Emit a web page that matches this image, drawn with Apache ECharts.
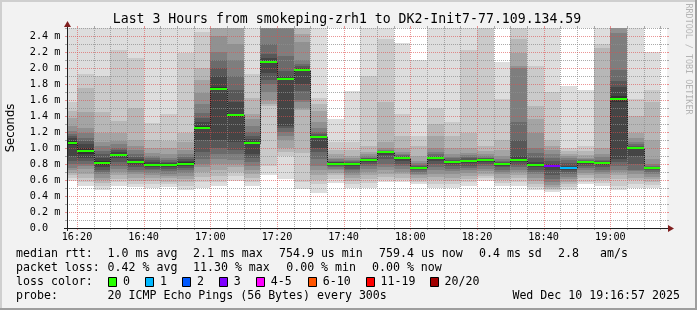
<!DOCTYPE html>
<html><head><meta charset="utf-8">
<script src="https://cdn.jsdelivr.net/npm/echarts@6/dist/echarts.min.js"></script>
<style>html,body{margin:0;padding:0;background:#f2f2f2}#c{width:697px;height:310px}</style>
</head><body><div id="c"></div>
<script>
// ---- data ----
const stepEnds = ['16:20','16:25','16:30','16:35','16:40','16:45','16:50','16:55',
  '17:00','17:05','17:10','17:15','17:20','17:25','17:30','17:35','17:40','17:45','17:50','17:55',
  '18:00','18:05','18:10','18:15','18:20','18:25','18:30','18:35','18:40','18:45','18:50','18:55',
  '19:00','19:05','19:10','19:15'];
const stepMinutes = 5;
const xStart = '16:17', xEnd = '19:17';
const xLabels = ['16:20','16:40','17:00','17:20','17:40','18:00','18:20','18:40','19:00'];
const yLabelValues = [0,0.2,0.4,0.6,0.8,1.0,1.2,1.4,1.6,1.8,2.0,2.2,2.4];
const yMax = 2.5;
const medians = [1.066,0.966,0.816,0.916,0.825,0.79,0.79,0.80,1.254,1.742,1.412,1.066,2.079,1.867,1.98,1.138,
  0.80,0.80,0.854,0.95,0.879,0.754,0.879,0.825,0.838,0.85,0.80,0.85,0.788,0.775,0.754,0.825,0.813,1.617,1.004,0.754];
const lossCounts = [0,0,0,0,0,0,0,0,0,0,0,0,0,0,0,0,0,0,0,0,0,0,0,0,0,0,0,0,0,3,1,0,0,0,0,0];
const pings = [
 [0.59,0.63,0.66,0.69,0.725,0.75,0.80,0.84,0.90,1.04,1.09,1.12,1.15,1.18,1.21,1.275,1.38,1.46,1.57,2.9],
 [0.53,0.57,0.62,0.68,0.74,0.77,0.80,0.84,0.88,0.93,1.0,1.05,1.09,1.13,1.19,1.25,1.45,1.75,1.92,2.9],
 [0.47,0.52,0.56,0.60,0.63,0.67,0.70,0.73,0.76,0.79,0.84,0.88,0.92,0.96,1.03,1.08,1.19,1.45,1.9,2.9],
 [0.53,0.57,0.61,0.66,0.70,0.74,0.78,0.82,0.87,0.905,0.93,0.945,0.97,1.0,1.05,1.09,1.19,1.34,2.225,2.9],
 [0.517,0.55,0.59,0.63,0.67,0.70,0.73,0.76,0.79,0.815,0.84,0.86,0.89,0.92,0.98,1.025,1.1,1.5,2.12,2.9],
 [0.50,0.55,0.59,0.63,0.66,0.69,0.72,0.74,0.76,0.78,0.80,0.83,0.85,0.88,0.90,0.94,1.0,1.1,1.317,2.9],
 [0.51,0.55,0.58,0.62,0.65,0.68,0.71,0.74,0.76,0.78,0.80,0.815,0.83,0.85,0.87,0.92,1.0,1.09,1.42,2.9],
 [0.48,0.53,0.57,0.61,0.65,0.69,0.72,0.75,0.77,0.795,0.82,0.84,0.86,0.89,0.92,0.98,1.07,1.19,2.19,2.9],
 [0.50,0.57,0.64,0.70,0.76,0.80,0.86,0.95,1.1,1.24,1.27,1.32,1.38,1.44,1.55,1.69,1.85,2.0,2.45,2.9],
 [0.525,0.58,0.65,0.72,0.80,0.86,0.93,1.0,1.1,1.72,1.76,1.9,2.0,2.1,2.2,2.4,2.6,2.7,2.8,2.9],
 [0.59,0.65,0.70,0.76,0.80,0.85,0.92,0.97,1.07,1.39,1.43,1.57,1.73,1.9,2.1,2.3,2.6,2.7,2.8,2.9],
 [0.525,0.57,0.63,0.68,0.73,0.78,0.83,0.88,0.92,1.05,1.08,1.11,1.15,1.2,1.275,1.36,1.42,1.63,1.92,2.9],
 [0.66,0.775,1.525,1.55,1.6,1.7,1.8,1.85,1.94,2.07,2.09,2.12,2.17,2.3,2.6,2.7,2.75,2.8,2.85,2.9],
 [0.61,0.9,0.95,1.0,1.1,1.15,1.2,1.25,1.28,1.85,1.88,1.9,1.96,2.15,2.6,2.7,2.75,2.8,2.85,2.9],
 [0.483,0.57,0.94,1.48,1.5,1.57,1.6,1.71,1.8,1.97,1.99,2.0,2.02,2.05,2.1,2.32,2.42,2.55,2.6,2.9],
 [0.44,0.55,0.6,0.66,0.72,0.78,0.86,0.95,1.0,1.13,1.145,1.155,1.17,1.2,1.25,1.32,1.46,1.55,1.63,2.9],
 [0.56,0.61,0.66,0.69,0.72,0.74,0.76,0.78,0.79,0.80,0.81,0.82,0.83,0.84,0.86,0.88,0.92,0.98,1.07,1.36],
 [0.50,0.55,0.59,0.63,0.66,0.69,0.72,0.74,0.77,0.80,0.81,0.815,0.825,0.84,0.85,0.87,0.9,0.98,1.07,1.71],
 [0.50,0.56,0.61,0.66,0.70,0.74,0.77,0.80,0.83,0.85,0.855,0.86,0.87,0.88,0.9,0.92,0.95,1.025,1.9,2.9],
 [0.57,0.6,0.64,0.68,0.72,0.76,0.8,0.86,0.91,0.945,0.95,0.952,0.955,0.965,0.98,1.0,1.07,1.57,2.36,2.9],
 [0.57,0.6,0.63,0.67,0.7,0.74,0.77,0.8,0.84,0.875,0.883,0.89,0.9,0.91,0.92,0.95,1.0,1.15,1.42,2.31],
 [0.55,0.57,0.6,0.63,0.66,0.68,0.7,0.72,0.74,0.75,0.758,0.765,0.775,0.79,0.81,0.84,0.9,1.03,1.15,2.1],
 [0.5,0.55,0.6,0.64,0.68,0.72,0.76,0.8,0.84,0.875,0.883,0.89,0.9,0.92,0.95,1.0,1.15,1.3,1.5,2.9],
 [0.5,0.55,0.59,0.63,0.67,0.71,0.74,0.77,0.8,0.825,0.835,0.84,0.85,0.87,0.89,0.93,1.0,1.15,1.32,2.9],
 [0.52,0.57,0.61,0.65,0.69,0.72,0.75,0.78,0.81,0.835,0.845,0.855,0.87,0.89,0.91,0.94,1.0,1.19,2.23,2.9],
 [0.59,0.62,0.65,0.68,0.71,0.74,0.77,0.8,0.83,0.85,0.855,0.86,0.87,0.88,0.9,0.92,0.96,1.03,2.6,2.9],
 [0.52,0.56,0.6,0.63,0.67,0.7,0.73,0.76,0.78,0.795,0.805,0.81,0.82,0.84,0.86,0.9,0.98,1.1,1.61,2.07],
 [0.52,0.57,0.62,0.66,0.7,0.73,0.76,0.79,0.82,0.84,0.86,0.9,1.1,1.32,2.0,2.03,2.19,2.36,2.6,2.9],
 [0.47,0.51,0.55,0.59,0.63,0.67,0.7,0.73,0.76,0.78,0.8,0.82,0.87,0.94,1.0,1.19,1.36,1.53,2.03,2.9],
 [0.45,0.47,0.49,0.51,0.54,0.57,0.61,0.66,0.72,0.77,0.78,0.8,0.84,0.88,0.93,0.98,1.03,1.1,1.7,2.9],
 [0.48,0.51,0.55,0.58,0.61,0.64,0.67,0.7,0.73,0.75,0.758,0.78,0.81,0.85,0.88,0.9,0.93,0.96,1.0,1.775],
 [0.55,0.58,0.62,0.66,0.69,0.72,0.75,0.78,0.8,0.82,0.83,0.835,0.84,0.85,0.86,0.88,0.91,0.96,1.025,1.73],
 [0.525,0.56,0.6,0.63,0.67,0.7,0.73,0.76,0.79,0.81,0.82,0.825,0.835,0.85,0.89,0.93,1.0,2.25,2.3,2.9],
 [0.48,0.52,0.61,0.66,0.7,0.73,0.78,0.82,0.86,1.58,1.65,1.76,1.84,1.98,2.44,2.6,2.7,2.8,2.85,2.9],
 [0.5,0.55,0.6,0.63,0.67,0.71,0.72,0.8,0.9,1.0,1.005,1.015,1.03,1.05,1.07,1.12,1.19,1.4,1.61,2.9],
 [0.5,0.54,0.58,0.61,0.64,0.67,0.7,0.72,0.74,0.748,0.753,0.757,0.765,0.78,0.8,0.86,1.1,1.57,1.73,2.2]
];
const lossLegend = ['0','1','2','3','4-5','6-10','11-19','20/20'];
const lossLegendColors = ['#26ff00','#00b8ff','#0059ff','#7e00ff','#ff00ff','#ff5500','#ff0000','#a10000'];
const statsLines = [
  ['median rtt:', '1.0 ms avg', '2.1 ms max', '754.9 us min', '759.4 us now', '0.4 ms sd', '2.8', 'am/s'],
  ['packet loss:', '0.42 % avg', '11.30 % max', '0.00 % min', '0.00 % now'],
  ['probe:', '20 ICMP Echo Pings (56 Bytes) every 300s', 'Wed Dec 10 19:16:57 2025']
];
const titleText = 'Last 3 Hours from smokeping-zrh1 to DK2-Init7-77.109.134.59';

// ---- helpers / styling ----
const toMin = s => { const [h, m] = s.split(':').map(Number); return h * 60 + m; };
const fmtMin = v => { const h = Math.floor(v / 60), m = Math.round(v % 60); return String(h).padStart(2,'0') + ':' + String(m).padStart(2,'0'); };
const lossIdx = n => n <= 3 ? n : n <= 5 ? 4 : n <= 10 ? 5 : n < 20 ? 6 : 7;
const half = 10;
const shades = []; for (let k = 0; k < half; k++) { const c = Math.floor(190 / half * (half - (k + 1))) + 50; shades.push('rgb(' + c + ',' + c + ',' + c + ')'); }
const MONO = 'DejaVu Sans Mono';
const L = 67, T = 28, W = 600, H = 200;
const GRID_MINOR = 'rgba(143,143,143,0.75)', GRID_MAJOR = 'rgba(222,79,79,0.6)';
const ARROW = '#801f1f', AXIS = '#1f1f1f';

const smokeData = [];
stepEnds.forEach((t, i) => {
  const e = toMin(t), s = e - stepMinutes, p = pings[i];
  for (let k = 0; k < half; k++) smokeData.push([s, e, p[k], p[19 - k], k]);
});
// thin median staircase: [start, end, value, previous value]
const medStairs = stepEnds.map((t, i) => [toMin(t) - stepMinutes, toMin(t), medians[i], i > 0 ? medians[i - 1] : medians[i]]);
const medSeg = stepEnds.map((t, i) => [toMin(t) - stepMinutes, toMin(t), medians[i], lossIdx(lossCounts[i])]);

// grid lines: [orientation(0=vertical,1=horizontal), value, major]
const gridData = [];
const majorMins = xLabels.map(toMin);
for (let m = toMin('16:20'); m <= toMin(xEnd); m += 5) gridData.push([0, m, majorMins.includes(m) ? 1 : 0]);
for (let n = 0; n <= 25; n++) gridData.push([1, n / 10, n % 2 === 0 ? 1 : 0]);

const chart = echarts.init(document.getElementById('c'), null, { renderer: 'canvas', width: 697, height: 310 });

const gfx = [];
gfx.push({ type: 'rect', shape: { x: 0, y: 0, width: 697, height: 2 }, style: { fill: '#cfcfcf' }, silent: true });
gfx.push({ type: 'rect', shape: { x: 0, y: 0, width: 2, height: 310 }, style: { fill: '#cfcfcf' }, silent: true });
gfx.push({ type: 'rect', shape: { x: 0, y: 308, width: 697, height: 2 }, style: { fill: '#9e9e9e' }, silent: true });
gfx.push({ type: 'rect', shape: { x: 695, y: 0, width: 2, height: 310 }, style: { fill: '#9e9e9e' }, silent: true });
gfx.push({ type: 'text', x: 347, y: 19.5, style: { text: titleText, font: '13.2px "' + MONO + '"', fill: '#000', align: 'center', verticalAlign: 'middle' } });
gfx.push({ type: 'text', x: 11, y: 128, rotation: Math.PI / 2, style: { text: 'Seconds', font: '11.6px "DejaVu Sans"', fill: '#000', align: 'center', verticalAlign: 'middle' } });
gfx.push({ type: 'text', x: 688, y: 59, rotation: -Math.PI / 2, style: { text: 'RRDTOOL / TOBI OETIKER', font: '8.4px "' + MONO + '"', fill: '#b4b4b4', align: 'center', verticalAlign: 'middle' } });
gfx.push({ type: 'line', z: 50, shape: { x1: L - 3, y1: T + H + 0.5, x2: L + W + 2, y2: T + H + 0.5 }, style: { stroke: AXIS, lineWidth: 1 } });
gfx.push({ type: 'line', z: 50, shape: { x1: L + 0.5, y1: T + H + 3, x2: L + 0.5, y2: T - 2 }, style: { stroke: AXIS, lineWidth: 1 } });
gfx.push({ type: 'polygon', z: 50, shape: { points: [[L + W + 7, T + H + 0.5], [L + W + 1, T + H - 3], [L + W + 1, T + H + 4]] }, style: { fill: ARROW } });
gfx.push({ type: 'polygon', z: 50, shape: { points: [[L + 0.5, T - 7], [L - 3, T - 1], [L + 4, T - 1]] }, style: { fill: ARROW } });
const statX = [[16, 107.6, 193, 279, 379, 479, 558, 600], [16, 107.6, 193, 286.2, 372], [16, 107.6, 512.4]];
const statY = [254.3, 268.3, 296];
statsLines.forEach((line, li) => line.forEach((s, j) => gfx.push({ type: 'text', x: statX[li][j], y: statY[li],
  style: { text: s, font: '11.6px "' + MONO + '"', fill: '#000', verticalAlign: 'middle' } })));
gfx.push({ type: 'text', x: 16, y: 281.7, style: { text: 'loss color:', font: '11.6px "' + MONO + '"', fill: '#000', verticalAlign: 'middle' } });
const boxX = [108.4, 145.3, 182.2, 219.1, 256, 308, 365.8, 429.8];
lossLegend.forEach((lab, i) => {
  gfx.push({ type: 'rect', shape: { x: Math.round(boxX[i]) + 0.5, y: 277.5, width: 8, height: 9 }, style: { fill: lossLegendColors[i], stroke: '#000', lineWidth: 1 } });
  gfx.push({ type: 'text', x: boxX[i] + 14.7, y: 281.7, style: { text: lab, font: '11.6px "' + MONO + '"', fill: '#000', verticalAlign: 'middle' } });
});

chart.setOption({
  animation: false,
  backgroundColor: '#f2f2f2',
  grid: { left: L, top: T, width: W, height: H, show: true, backgroundColor: '#ffffff', borderWidth: 0, outerBoundsMode: 'none', containLabel: false },
  xAxis: {
    type: 'value', min: toMin(xStart), max: toMin(xEnd),
    axisLine: { show: false }, splitLine: { show: false }, axisTick: { show: false },
    axisLabel: { customValues: xLabels.map(toMin), formatter: v => fmtMin(v), fontFamily: MONO, fontSize: 10.2, color: '#000', margin: 4 }
  },
  yAxis: {
    type: 'value', min: 0, max: yMax, interval: 0.1,
    axisLine: { show: false }, splitLine: { show: false }, axisTick: { show: false },
    axisLabel: { customValues: yLabelValues, formatter: v => v === 0 ? '0.0  ' : v.toFixed(1) + ' m', fontFamily: MONO, fontSize: 10.2, color: '#000', margin: 6.5 }
  },
  graphic: { elements: gfx },
  series: [
    { type: 'custom', z: 1, data: smokeData, encode: { x: [0, 1], y: [2, 3] },
      renderItem(params, api) {
        const a = api.coord([api.value(0), api.value(3)]), b = api.coord([api.value(1), api.value(2)]);
        const x1 = Math.round(a[0]), x2 = Math.round(b[0]), y1 = Math.round(a[1]), y2 = Math.round(b[1]);
        const cs = params.coordSys;
        const r = echarts.graphic.clipRectByRect({ x: x1, y: y1, width: x2 - x1, height: y2 - y1 }, { x: cs.x, y: cs.y, width: cs.width, height: cs.height });
        if (!r) return;
        return { type: 'rect', shape: r, style: { fill: shades[api.value(4)] } };
      } },
    { type: 'custom', z: 2, data: medStairs,
      renderItem(params, api) {
        const cs = params.coordSys;
        const a = api.coord([api.value(0), api.value(2)]), b = api.coord([api.value(1), api.value(2)]);
        const pv = api.coord([api.value(0), api.value(3)]);
        const x1 = Math.round(a[0]) + 0.5, x2 = Math.round(b[0]) + 0.5;
        const y = Math.round(a[1]) + 0.5, yp = Math.round(pv[1]) + 0.5;
        const ch = [{ type: 'line', shape: { x1: Math.max(x1, cs.x + 1), y1: y, x2: x2, y2: y }, style: { stroke: '#202020', lineWidth: 1 } }];
        if (x1 > cs.x + 1) ch.push({ type: 'line', shape: { x1: x1, y1: yp, x2: x1, y2: y }, style: { stroke: '#202020', lineWidth: 1 } });
        return { type: 'group', children: ch };
      } },
    { type: 'custom', z: 3, data: gridData,
      renderItem(params, api) {
        const cs = params.coordSys;
        const major = api.value(2) === 1, col = major ? GRID_MAJOR : GRID_MINOR;
        if (api.value(0) === 0) {
          const x = Math.round(api.coord([api.value(1), 0])[0]) + 0.5;
          if (x > cs.x + cs.width + 1) return;
          return { type: 'group', children: [
            { type: 'line', shape: { x1: x, y1: cs.y, x2: x, y2: cs.y + cs.height }, style: { stroke: col, lineWidth: 1, lineDash: [1, 1] } },
            { type: 'line', shape: { x1: x, y1: cs.y - 2, x2: x, y2: cs.y }, style: { stroke: col, lineWidth: 1 } },
            { type: 'line', shape: { x1: x, y1: cs.y + cs.height, x2: x, y2: cs.y + cs.height + 2 }, style: { stroke: col, lineWidth: 1 } }
          ] };
        }
        const y = Math.round(api.coord([0, api.value(1)])[1]) + 0.5;
        return { type: 'group', children: [
          { type: 'line', shape: { x1: cs.x, y1: y, x2: cs.x + cs.width, y2: y }, style: { stroke: col, lineWidth: 1, lineDash: [1, 1] } },
          { type: 'line', shape: { x1: cs.x - 2, y1: y, x2: cs.x, y2: y }, style: { stroke: col, lineWidth: 1 } },
          { type: 'line', shape: { x1: cs.x + cs.width, y1: y, x2: cs.x + cs.width + 2, y2: y }, style: { stroke: col, lineWidth: 1 } }
        ] };
      } },
    { type: 'custom', z: 4, data: medSeg,
      renderItem(params, api) {
        const cs = params.coordSys;
        const a = api.coord([api.value(0), api.value(2)]), b = api.coord([api.value(1), api.value(2)]);
        const x1 = Math.max(Math.round(a[0]), cs.x + 1), x2 = Math.round(b[0]);
        const y = Math.round(a[1]);
        return { type: 'line', shape: { x1: x1, y1: y, x2: x2, y2: y }, style: { stroke: lossLegendColors[api.value(3)], lineWidth: 2 } };
      } }
  ]
});
</script></body></html>
